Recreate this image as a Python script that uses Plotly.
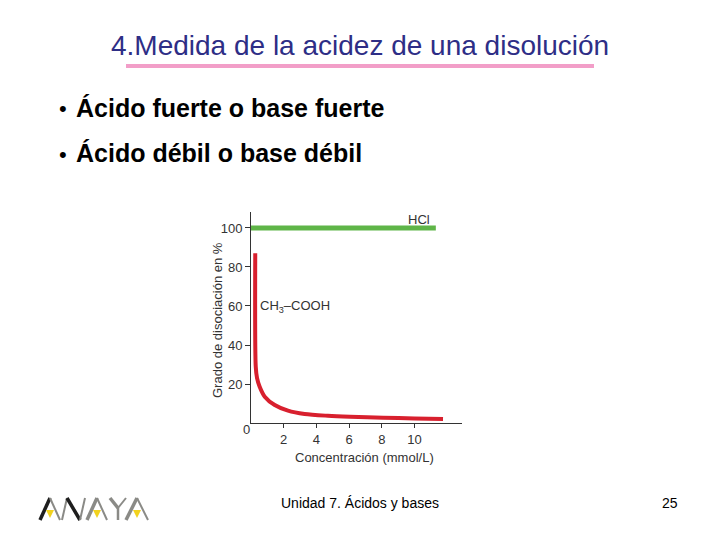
import plotly.graph_objects as go

# Data
hcl_x = [0.0, 11.3]
hcl_y = [100, 100]
acetic_x = [0.26, 0.29, 0.37, 0.53, 0.84, 1.45, 2.26, 3.28, 4.7, 6.05, 8.08, 10.0, 11.74]
acetic_y = [87.0, 28.9, 23.0, 18.6, 13.5, 9.2, 6.3, 4.6, 3.7, 3.2, 2.7, 2.35, 2.05]
x_ticks = [2, 4, 6, 8, 10]
y_ticks = [20, 40, 60, 80, 100]

W, H = 720, 540
def px(x):
    return x / W
def py(y):
    return 1 - y / H

fig = go.Figure()
fig.add_trace(go.Scatter(x=hcl_x, y=hcl_y, mode="lines",
                         line=dict(color="#5fb548", width=5), hoverinfo="skip"))
fig.add_trace(go.Scatter(x=acetic_x, y=acetic_y, mode="lines", line_shape="spline",
                         line=dict(color="#d8202e", width=4, smoothing=0.8), hoverinfo="skip"))

FONT = "Liberation Sans, Arial, sans-serif"
axis_font = dict(family=FONT, size=13, color="#333333")

fig.update_layout(
    width=W, height=H,
    margin=dict(l=0, r=0, t=0, b=0),
    paper_bgcolor="white", plot_bgcolor="white",
    showlegend=False,
    xaxis=dict(domain=[px(251), px(462)], range=[0, 12.9], tickvals=x_ticks,
               showline=True, linecolor="#333333", linewidth=1, showgrid=False,
               zeroline=False, ticks="outside", ticklen=4, tickcolor="#333333",
               tickfont=axis_font),
    yaxis=dict(domain=[py(423), py(212)], range=[0, 108.2], tickvals=y_ticks,
               showline=True, linecolor="#333333", linewidth=1, showgrid=False,
               zeroline=False, ticks="outside", ticklen=5, tickcolor="#333333",
               tickfont=axis_font),
)

ann = []
def text(x, y, s, size, color="#000000", xanchor="center", angle=0):
    ann.append(dict(x=px(x), y=py(y), xref="paper", yref="paper", text=s, showarrow=False,
                    xanchor=xanchor, yanchor="middle", textangle=angle,
                    font=dict(family=FONT, size=size, color=color)))

text(360, 46, "4.Medida de la acidez de una disolución", 28, "#2e2e86")
text(63, 109, "•", 22, "#000000")
text(74, 108, "<b>Ácido fuerte o base fuerte</b>", 25, "#000000", xanchor="left")
text(63, 154, "•", 22, "#000000")
text(74, 153, "<b>Ácido débil o base débil</b>", 25, "#000000", xanchor="left")
text(246, 429, "0", 13, "#333333")
text(419, 219, "HCl", 13, "#333333")
text(258, 306, "CH<sub>3</sub>–COOH", 13, "#333333", xanchor="left")
text(364, 457, "Concentración (mmol/L)", 13, "#333333")
text(217, 320, "Grado de disociación en %", 13, "#333333", angle=-90)
text(360, 503, "Unidad 7. Ácidos y bases", 14, "#000000")
text(670, 503, "25", 14, "#000000")
fig.update_layout(annotations=ann)

shapes = []
# pink underline under title
shapes.append(dict(type="line", xref="paper", yref="paper", x0=px(126), x1=px(594),
                   y0=py(66), y1=py(66), line=dict(color="#f29ec8", width=4)))

# ANAYA logo (decorative)
def seg(x0, y0, x1, y1, color, w):
    shapes.append(dict(type="line", xref="paper", yref="paper", x0=px(x0), y0=py(y0),
                       x1=px(x1), y1=py(y1), line=dict(color=color, width=w)))
def tri(cx, ytop):
    path = "M {} {} L {} {} L {} {} Z".format(px(cx - 4), py(ytop), px(cx + 4), py(ytop),
                                              px(cx), py(ytop + 8))
    shapes.append(dict(type="path", xref="paper", yref="paper", path=path,
                       fillcolor="#f2d21e", line=dict(width=0)))
black, gray = "#1e1e1e", "#8a8a86"
seg(40, 520, 50, 498, black, 3.5); seg(50, 498, 60, 520, gray, 2)
tri(50, 510)
seg(62, 520, 67, 498, gray, 2); seg(67, 498, 80, 520, black, 3.5); seg(80, 520, 85, 498, gray, 2)
seg(87, 520, 97, 498, gray, 3.5); seg(97, 498, 107, 520, gray, 2)
tri(97, 510)
seg(110, 498, 118, 508, gray, 3.5); seg(118, 508, 126, 498, gray, 2); seg(118, 508, 118, 520, gray, 2.5)
seg(126, 520, 137, 498, gray, 3.5); seg(137, 498, 148, 520, gray, 2)
tri(137, 510)
fig.update_layout(shapes=shapes)

fig.write_html("out.html", config={"displayModeBar": False},
               post_script="document.body.style.margin='0';")
